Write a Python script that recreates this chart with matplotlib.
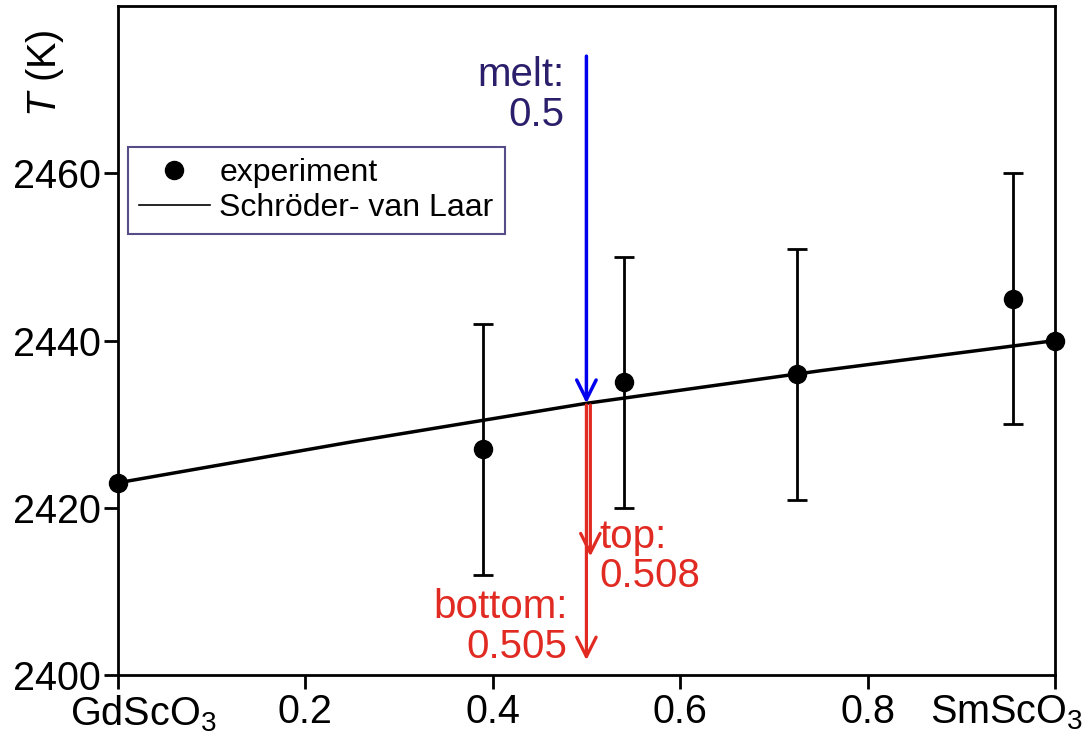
import numpy as np
import matplotlib
matplotlib.use('Agg')
import matplotlib.pyplot as plt
from matplotlib.lines import Line2D
from matplotlib.transforms import ScaledTranslation

plt.rcParams['font.family'] = ['Liberation Sans', 'DejaVu Sans']
plt.rcParams['mathtext.fontset'] = 'custom'
plt.rcParams['mathtext.rm'] = 'Liberation Sans'
plt.rcParams['mathtext.it'] = 'Liberation Sans:italic'
plt.rcParams['mathtext.default'] = 'regular'

# ---------------------------------------------------------
# Data
# ---------------------------------------------------------
# end members (no error bars)
x_end = [0.0, 1.0]
T_end = [2423, 2440]
# mixed crystals with error bars
x_exp = [0.39, 0.54, 0.725, 0.955]
T_exp = [2427, 2435, 2436, 2445]
T_err = [15, 15, 15, 15]

x_svl = [0.0, 0.25, 0.5, 0.75, 1.0]
T_svl = [2423, 2427.9, 2432.5, 2436.4, 2440]

x_melt = 0.5
T_melt_start = 2474
x_top, T_top_end = 0.5042, 2414.2
x_bottom, T_bottom_end = 0.5, 2401.8

xticks = [0.0, 0.2, 0.4, 0.6, 0.8, 1.0]
xticklabels = ['GdScO$_{3}$', '0.2', '0.4', '0.6', '0.8', 'SmScO$_{3}$']
yticks = [2400, 2420, 2440, 2460]

blue = '#0000ee'
navy = '#2b1f6b'
red = '#e02a22'

# ---------------------------------------------------------
# Plot
# ---------------------------------------------------------
fig = plt.figure(figsize=(10.91, 7.42), dpi=100)
ax = fig.add_axes([0.108, 0.09, 0.859, 0.902])

ax.plot(x_svl, T_svl, color='black', lw=2.5, zorder=2)
ax.errorbar(x_exp, T_exp, yerr=T_err, fmt='o', color='black', ms=13,
            elinewidth=2, capsize=7, capthick=2, zorder=3)
ax.plot(x_end, T_end, 'o', color='black', ms=13, clip_on=False, zorder=4)

T_line = np.interp(x_melt, x_svl, T_svl)

# melt arrow
ax.annotate('', xy=(x_melt, T_line), xytext=(x_melt, T_melt_start),
            arrowprops=dict(arrowstyle='->', color=blue, lw=2.5, mutation_scale=35,
                            shrinkA=0, shrinkB=0))
ax.text(0.477, 2474.0, 'melt:\n0.5', color=navy, fontsize=29, ha='right', va='top',
        linespacing=1.05)

# top / bottom arrows
ax.annotate('', xy=(x_top, T_top_end), xytext=(x_top, T_line - 0.2),
            arrowprops=dict(arrowstyle='->', color=red, lw=2.3, mutation_scale=35,
                            shrinkA=0, shrinkB=0))
ax.annotate('', xy=(x_bottom, T_bottom_end), xytext=(x_bottom, T_line - 0.2),
            arrowprops=dict(arrowstyle='->', color=red, lw=2.3, mutation_scale=35,
                            shrinkA=0, shrinkB=0))
ax.text(0.514, 2418.8, 'top:\n0.508', color=red, fontsize=29, ha='left', va='top',
        linespacing=1.05)
ax.text(0.480, 2410.4, 'bottom:\n0.505', color=red, fontsize=29, ha='right', va='top',
        linespacing=1.05)

ax.set_xlim(0, 1)
ax.set_ylim(2400, 2480)
ax.set_xticks(xticks)
ax.set_xticklabels(xticklabels)
ax.set_yticks(yticks)
ax.tick_params(axis='both', labelsize=28.5, length=10, width=2, direction='out', pad=2)
ax.tick_params(axis='x', pad=3)
for s in ax.spines.values():
    s.set_linewidth(2)

# shift the end-member labels inward
labels = ax.get_xticklabels()
labels[0].set_transform(labels[0].get_transform() + ScaledTranslation(0.25, 0, fig.dpi_scale_trans))
labels[-1].set_transform(labels[-1].get_transform() + ScaledTranslation(-0.48, 0, fig.dpi_scale_trans))

ax.text(-0.078, 0.90, r'$\mathit{T}$ (K)', transform=ax.transAxes, rotation=90,
        fontsize=28.5, ha='center', va='center')

handles = [Line2D([], [], marker='o', color='black', ls='none', ms=13),
           Line2D([], [], color='black', lw=1.2)]
leg = ax.legend(handles, ['experiment', 'Schröder- van Laar'],
                loc='upper left', bbox_to_anchor=(0.011, 0.789), fontsize=23,
                frameon=True, fancybox=False, edgecolor=navy, handlelength=2.2,
                handletextpad=0.3, borderpad=0.35, labelspacing=0.15,
                borderaxespad=0)
leg.get_frame().set_linewidth(1.5)

fig.savefig('out.png', dpi=100)
